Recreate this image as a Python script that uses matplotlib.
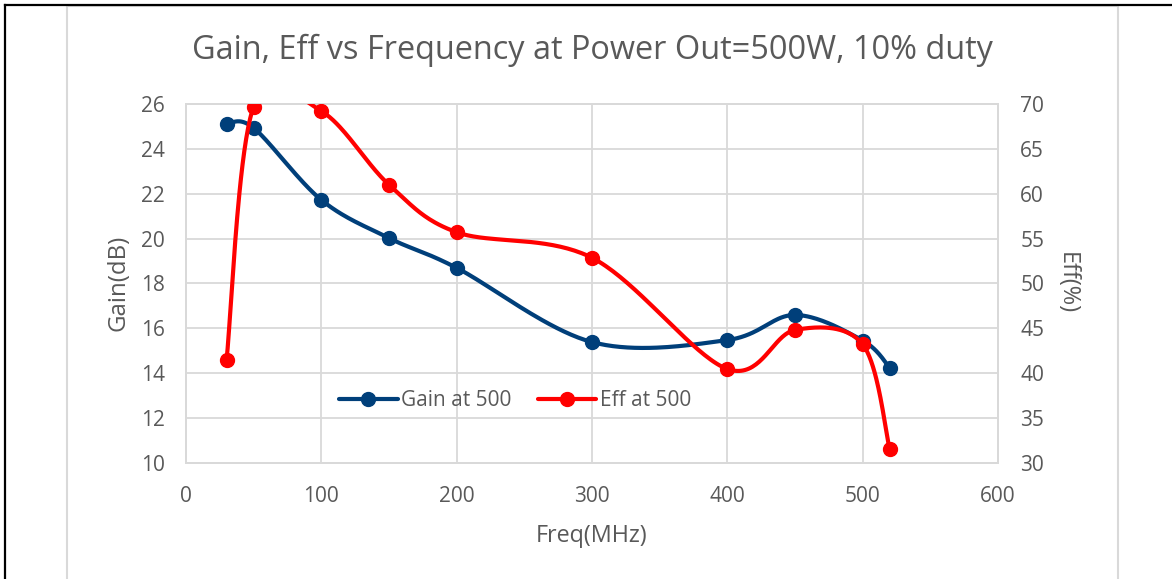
import numpy as np
import matplotlib
matplotlib.use("Agg")
import matplotlib.pyplot as plt
from matplotlib.lines import Line2D
from matplotlib.patches import Rectangle

# ---- data ----
freq = [30, 50, 100, 150, 200, 300, 400, 450, 500, 520]
gain = [25.11, 24.93, 21.72, 20.02, 18.69, 15.38, 15.47, 16.59, 15.45, 14.24]
eff = [41.5, 69.7, 69.2, 61.0, 55.7, 52.85, 40.45, 44.8, 43.2, 31.5]
x_ticks = [0, 100, 200, 300, 400, 500, 600]
gain_ticks = [10, 12, 14, 16, 18, 20, 22, 24, 26]
eff_ticks = [30, 35, 40, 45, 50, 55, 60, 65, 70]

title = "Gain, Eff vs Frequency at Power Out=500W, 10% duty"

FONT = ["Open Sans", "DejaVu Sans"]
plt.rcParams["font.family"] = FONT
TXT = "#595959"
GRID = "#d9d9d9"
BLUE = "#003f7a"
RED = "#ff0000"


def smooth(xs, ys, n=40):
    """Excel-like smoothing: Catmull-Rom as cubic Bezier segments."""
    P = np.column_stack([xs, ys]).astype(float)
    m = len(P)
    out = []
    t = np.linspace(0, 1, n, endpoint=False)[:, None]
    for i in range(m - 1):
        p0 = P[max(i - 1, 0)]
        p1 = P[i]
        p2 = P[i + 1]
        p3 = P[min(i + 2, m - 1)]
        c1 = p1 + (p2 - p0) / 6.0
        c2 = p2 - (p3 - p1) / 6.0
        seg = ((1 - t) ** 3) * p1 + 3 * ((1 - t) ** 2) * t * c1 + 3 * (1 - t) * t ** 2 * c2 + t ** 3 * p2
        out.append(seg)
    out.append(P[-1][None, :])
    arr = np.vstack(out)
    marks = [i * n for i in range(m)]
    return arr[:, 0], arr[:, 1], marks


W, H = 1172, 579
fig = plt.figure(figsize=(W / 100, H / 100), dpi=100)
fig.patch.set_facecolor("white")

L, R, T, B = 186, 998, 104, 462.7
ax = fig.add_axes([L / W, 1 - B / H, (R - L) / W, (B - T) / H])
ax2 = ax.twinx()

gx, gy, gm = smooth(freq, gain)
ex, ey, em = smooth(freq, eff)

lw = 3.0
ms = 10
l1, = ax.plot(gx, gy, color=BLUE, lw=lw, marker="o", ms=ms, markevery=gm,
              label="Gain at 500", solid_capstyle="round", zorder=3)
l2, = ax2.plot(ex, ey, color=RED, lw=lw, marker="o", ms=ms, markevery=em,
               label="Eff at 500", solid_capstyle="round", zorder=3)

ax.set_xlim(0, 600)
ax.set_ylim(10, 26)
ax2.set_ylim(30, 70)
ax.set_xticks(x_ticks)
ax.set_yticks(gain_ticks)
ax2.set_yticks(eff_ticks)
ax.grid(True, color=GRID, lw=1.3)
ax.set_axisbelow(True)

for a in (ax, ax2):
    for s in a.spines.values():
        s.set_color(GRID)
        s.set_linewidth(1.3)

ax.tick_params(axis="both", length=0, labelsize=15, labelcolor=TXT)
ax.tick_params(axis="y", pad=15)
ax.tick_params(axis="x", pad=17)
ax2.tick_params(axis="y", length=0, labelsize=15, labelcolor=TXT, pad=16)

ax.set_xlabel("Freq(MHz)", fontsize=16.8, color=TXT, labelpad=12)
ax.set_ylabel("Gain(dB)", fontsize=17.3, color=TXT, labelpad=7.5)
ax2.set_ylabel("Eff(%)", fontsize=17, color=TXT, rotation=270, labelpad=25)

fig.text(592 / W, 1 - 50 / H, title, ha="center", va="center",
         fontsize=23.4, color=TXT)

leg = ax2.legend(handles=[l1, l2], loc="center",
                 bbox_to_anchor=((515 - L) / (R - L), (B - 401) / (B - T)),
                 ncol=2, frameon=False, fontsize=15, handlelength=2.8,
                 handletextpad=0.15, columnspacing=1.3, numpoints=1,
                 labelcolor=TXT)

# chart frame decorations
fig.add_artist(Rectangle((66.5 / W, -0.1), (1118 - 66.5) / W, 1.1 - 5.5 / H + 0.0,
                         transform=fig.transFigure, fill=False,
                         edgecolor=GRID, lw=1.5))
fig.add_artist(Line2D([5 / W, 5 / W], [0, 1 - 5 / H], transform=fig.transFigure,
                      color="black", lw=1.6))
fig.add_artist(Line2D([5 / W, 1], [1 - 5 / H, 1 - 5 / H], transform=fig.transFigure,
                      color="black", lw=1.6))

fig.savefig("out.png", dpi=100, facecolor="white")
